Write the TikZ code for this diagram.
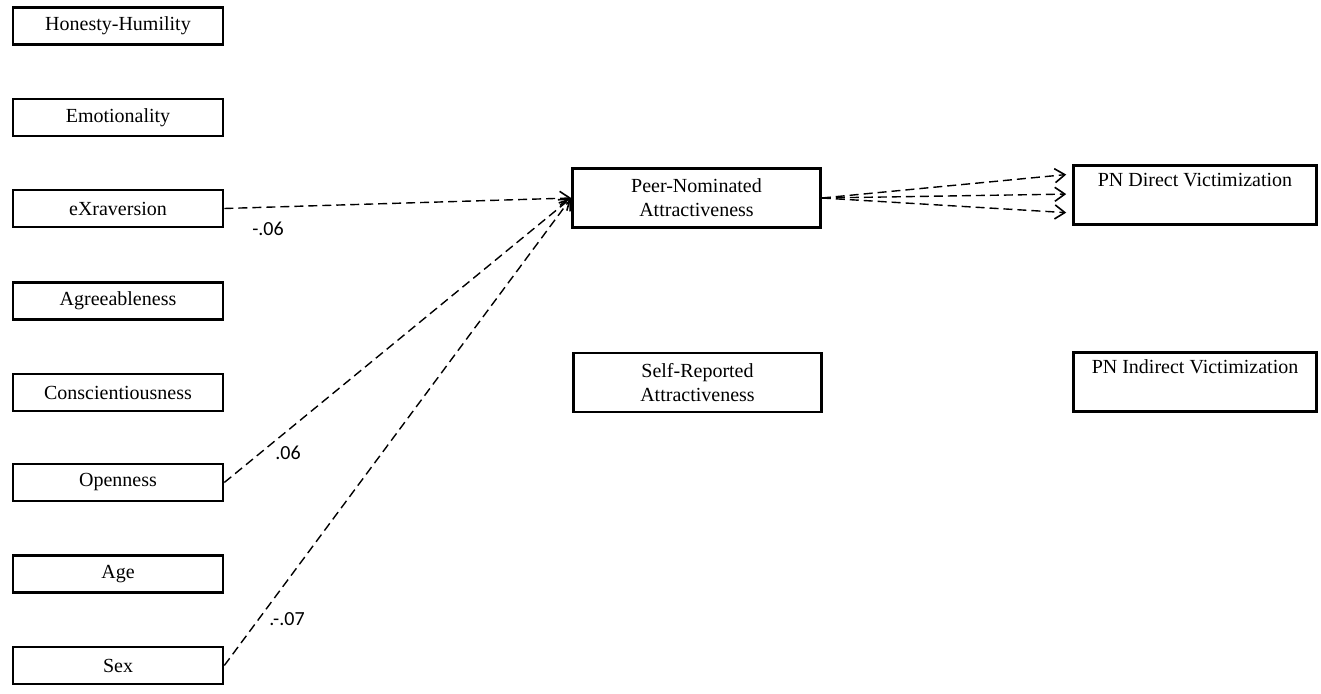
\documentclass[tikz,border=0pt]{standalone}
\usepackage{fontspec}
\setmainfont{Liberation Serif}
\newfontfamily\coeffont{Carlito}
\usetikzlibrary{arrows.meta}

\begin{document}
\begin{tikzpicture}[
    x=0.5pt, y=-0.5pt,
    trait/.style={rectangle, draw=black, line width=1.3pt, minimum width=105pt, minimum height=18.5pt, inner sep=0pt, font=\fontsize{10}{12}\selectfont},
    attract/.style={rectangle, draw=black, line width=1.3pt, minimum width=124pt, minimum height=29.5pt, inner sep=0pt, align=center, font=\fontsize{10}{12}\selectfont},
    victim/.style={rectangle, draw=black, line width=1.3pt, minimum width=121.5pt, minimum height=29.5pt, inner sep=0pt, align=center, font=\fontsize{10}{12}\selectfont},
    coef/.style={inner sep=0pt, font=\coeffont\fontsize{10}{12}\selectfont},
    path/.style={dashed, dash pattern=on 4.5pt off 2.5pt, line width=0.7pt, -{Straight Barb[length=5pt, width=7pt, line width=0.8pt]}},
]
    \useasboundingbox (0, 0) rectangle (1321, 694);

    % HEXACO traits and covariates
    \node[trait] (hh) at (118, 26) {Honesty-Humility};
    \node[trait] (em) at (118, 117.5) {Emotionality};
    \node[trait] (ex) at (118, 208.5) {eXraversion};
    \node[trait] (ag) at (118, 301) {Agreeableness};
    \node[trait] (co) at (118, 392.5) {Conscientiousness};
    \node[trait] (op) at (118, 482.5) {Openness};
    \node[trait] (age) at (118, 574) {Age};
    \node[trait] (sex) at (118, 665.5) {Sex};

    % Mediators
    \node[attract] (pna) at (696.5, 198) {Peer-Nominated\\Attractiveness};
    \node[attract] (sra) at (697.5, 382.5) {Self-Reported\\Attractiveness};

    % Outcomes
    \node[victim] (dir) at (1195, 195) {PN Direct Victimization\\ \strut};
    \node[victim] (ind) at (1195, 382) {PN Indirect Victimization\\ \strut};

    % Paths
    \draw[path] (ex.east) -- (pna.west);
    \draw[path] (op.east) -- (pna.west);
    \draw[path] (sex.east) -- (pna.west);
    \draw[path, shorten >=3pt] (pna.east) -- ([yshift=10.5pt]dir.west);
    \draw[path, shorten >=3pt] (pna.east) -- ([yshift=0.5pt]dir.west);
    \draw[path, shorten >=3pt] (pna.east) -- ([yshift=-9pt]dir.west);

    % Coefficients
    \node[coef] (bex) at (268, 229) {-.06};
    \node[coef] (bop) at (288, 453) {.06};
    \node[coef] (bsex) at (287, 619) {.-.07};
\end{tikzpicture}
\end{document}
